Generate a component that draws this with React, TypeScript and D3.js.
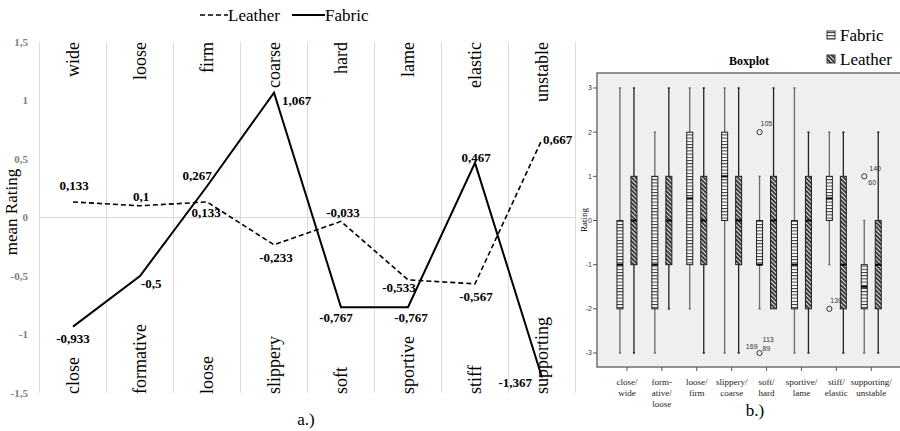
import * as d3 from "d3";

// --- chart a.) mean ratings ---
const leftPoles = ["close", "formative", "loose", "slippery", "soft", "sportive", "stiff", "supporting"];
const rightPoles = ["wide", "loose", "firm", "coarse", "hard", "lame", "elastic", "unstable"];
const fabricMeans = [-0.933, -0.5, 0.267, 1.067, -0.767, -0.767, 0.467, -1.367];
const leatherMeans = [0.133, 0.1, 0.133, -0.233, -0.033, -0.533, -0.567, 0.667];
const meanTicks = [1.5, 1, 0.5, 0, -0.5, -1, -1.5];

// label offsets (dx, dy, anchor) for the data labels
const fabricLabelPos: [number, number, string][] = [
  [0, 12, "middle"], [1, 7, "start"], [-10, -11, "middle"], [8, 8, "start"],
  [-5, 10, "middle"], [3, 10, "middle"], [1, -5, "middle"], [-10, 5, "end"],
];
const leatherLabelPos: [number, number, string][] = [
  [1, -16, "middle"], [1, -9, "middle"], [-1, 11, "middle"], [2, 13, "middle"],
  [2, -9, "middle"], [-9, 8, "middle"], [1, 13, "middle"], [1, 0, "start"],
];

// --- chart b.) boxplot ---
const boxCategories = [
  ["close/", "wide"],
  ["form-", "ative/", "loose"],
  ["loose/", "firm"],
  ["slippery/", "coarse"],
  ["soft/", "hard"],
  ["sportive/", "lame"],
  ["stiff/", "elastic"],
  ["supporting/", "unstable"],
];
// [min, q1, median, q3, max]
const fabricBoxes = [
  [-3, -2, -1, 0, 3],
  [-3, -2, -1, 1, 2],
  [-2, -1, 0.5, 2, 3],
  [-3, 0, 1, 2, 3],
  [-2, -1, -1, 0, 1],
  [-3, -2, -1, 0, 3],
  [-1, 0, 0.5, 1, 2],
  [-3, -2, -1.5, -1, 0],
];
const leatherBoxes = [
  [-3, -1, 0, 1, 3],
  [-2, -1, 0, 1, 3],
  [-3, -1, 0, 1, 3],
  [-3, -1, 0, 1, 3],
  [-2, -2, 0, 1, 3],
  [-3, -2, 0, 1, 2],
  [-3, -2, -1, 1, 2],
  [-3, -2, -1, 0, 2],
];
const fabricOutliers: [number, number, string[]][] = [
  [4, 2, ["105"]],
  [4, -3, ["169", "113", "89"]],
  [6, -2, ["130"]],
  [7, 1, ["140", "60"]],
];
const ratingTicks = [3, 2, 1, 0, -1, -2, -3];

const serif = "'Liberation Serif', 'Times New Roman', serif";
const sans = "'Liberation Sans', Arial, sans-serif";
const fmt = (v: number) => String(v).replace(".", ",");

const App = () => {
  const xA = d3.scaleBand<number>().domain(d3.range(8)).range([39.5, 575.5]);
  const yA = d3.scaleLinear().domain([-1.5, 1.5]).range([393, 42]);
  const cxA = (i: number) => (xA(i) as number) + xA.bandwidth() / 2;

  const line = d3
    .line<number>()
    .x((_, i) => cxA(i))
    .y((d) => yA(d));

  const xB = d3.scaleBand<number>().domain(d3.range(8)).range([609.5, 888.7]);
  const yB = d3.scaleLinear().domain([-3, 3]).range([353, 88]);
  const cxB = (i: number) => (xB(i) as number) + xB.bandwidth() / 2;
  const boxW = 6;

  const drawBox = (b: number[], i: number, s: number) => {
    const cx = cxB(i) + (s === 0 ? -7 : 7);
    const [mn, q1, md, q3, mx] = b;
    const wc = s === 0 ? "#6a6a6a" : "#222";
    return (
      <g key={`b${s}-${i}`}>
        {mn < q1 && <line x1={cx} x2={cx} y1={yB(mn)} y2={yB(q1)} stroke={wc} strokeWidth={1.3} />}
        {mx > q3 && <line x1={cx} x2={cx} y1={yB(q3)} y2={yB(mx)} stroke={wc} strokeWidth={1.3} />}
        {mn < q1 && <line x1={cx - 1} x2={cx + 1} y1={yB(mn)} y2={yB(mn)} stroke={wc} strokeWidth={1.5} />}
        {mx > q3 && <line x1={cx - 1} x2={cx + 1} y1={yB(mx)} y2={yB(mx)} stroke={wc} strokeWidth={1.5} />}
        <rect
          x={cx - boxW / 2}
          y={yB(q3)}
          width={boxW}
          height={yB(q1) - yB(q3)}
          fill={s === 0 ? "url(#ladder)" : "url(#hatch)"}
          stroke="#222"
          strokeWidth={1}
        />
        <line x1={cx - boxW / 2} x2={cx + boxW / 2} y1={yB(md)} y2={yB(md)} stroke="#000" strokeWidth={2} />
      </g>
    );
  };

  return (
    <svg
      width={900}
      height={431}
      style={{ position: "absolute", left: 0, top: 0, background: "#fff" }}
      fontFamily={serif}
    >
      <defs>
        <pattern id="ladder" patternUnits="userSpaceOnUse" width={6} height={3.2}>
          <rect width={6} height={3.2} fill="#fff" />
          <line x1={0} x2={6} y1={0.5} y2={0.5} stroke="#333" strokeWidth={1} />
        </pattern>
        <pattern id="hatch" patternUnits="userSpaceOnUse" width={3} height={3} patternTransform="rotate(45)">
          <rect width={3} height={3} fill="#3a3a3a" />
          <line x1={0} x2={3} y1={1.5} y2={1.5} stroke="#fff" strokeWidth={0.9} />
        </pattern>
      </defs>

      {/* ---------- a.) ---------- */}
      <g>
        {d3.range(9).map((k) => {
          const x = 39.5 + xA.step() * k;
          return <line key={k} x1={x} x2={x} y1={42} y2={393} stroke="#dcdcdc" strokeWidth={1} />;
        })}
        <line x1={39.5} x2={575.5} y1={yA(0)} y2={yA(0)} stroke="#d6d6d6" strokeWidth={1.2} />

        {meanTicks.map((t) => (
          <text key={t} x={28} y={yA(t)} dy="0.35em" textAnchor="end" fontSize={11} fontWeight="bold" fill="#808080">
            {fmt(t)}
          </text>
        ))}
        <text transform={`translate(17,212) rotate(-90)`} textAnchor="middle" fontSize={17} fill="#000">
          mean Rating
        </text>

        {rightPoles.map((p, i) => (
          <text key={`r${i}`} transform={`translate(${cxA(i)},42) rotate(-90)`} dy="0.33em" textAnchor="end" fontSize={18}>
            {p}
          </text>
        ))}
        {leftPoles.map((p, i) => (
          <text key={`l${i}`} transform={`translate(${cxA(i)},394) rotate(-90)`} dy="0.33em" textAnchor="start" fontSize={18}>
            {p}
          </text>
        ))}

        <path d={line(leatherMeans) as string} fill="none" stroke="#000" strokeWidth={1.6} strokeDasharray="5,3" />
        <path d={line(fabricMeans) as string} fill="none" stroke="#000" strokeWidth={2} />

        {fabricMeans.map((v, i) => (
          <text
            key={`fl${i}`}
            x={cxA(i) + fabricLabelPos[i][0]}
            y={yA(v) + fabricLabelPos[i][1]}
            dy="0.35em"
            textAnchor={fabricLabelPos[i][2]}
            fontSize={13}
            fontWeight="bold"
          >
            {fmt(v)}
          </text>
        ))}
        {leatherMeans.map((v, i) => (
          <text
            key={`ll${i}`}
            x={cxA(i) + leatherLabelPos[i][0]}
            y={yA(v) + leatherLabelPos[i][1]}
            dy="0.35em"
            textAnchor={leatherLabelPos[i][2]}
            fontSize={13}
            fontWeight="bold"
          >
            {fmt(v)}
          </text>
        ))}

        {/* legend */}
        <line x1={200} x2={228} y1={15} y2={15} stroke="#000" strokeWidth={1.6} strokeDasharray="5,3" />
        <text x={228} y={15} dy="0.35em" fontSize={17}>Leather</text>
        <line x1={292} x2={325} y1={15} y2={15} stroke="#000" strokeWidth={2} />
        <text x={325} y={15} dy="0.35em" fontSize={17}>Fabric</text>

        <text x={306} y={419} dy="0.35em" textAnchor="middle" fontSize={17}>a.)</text>
      </g>

      {/* ---------- b.) ---------- */}
      <g>
        <text x={749} y={61} dy="0.35em" textAnchor="middle" fontSize={12} fontWeight="bold">Boxplot</text>
        <rect x={597} y={73} width={320} height={294} fill="#efefef" stroke="#707070" strokeWidth={1.5} />

        {ratingTicks.map((t) => (
          <g key={t}>
            <line x1={593} x2={597} y1={yB(t)} y2={yB(t)} stroke="#555" />
            <text x={592} y={yB(t)} dy="0.35em" textAnchor="end" fontSize={7} fontFamily={sans} fill="#333">
              {t}
            </text>
          </g>
        ))}
        <text transform={`translate(584,220) rotate(-90)`} textAnchor="middle" dy="0.3em" fontSize={9}>Rating</text>

        {boxCategories.map((lines, i) => (
          <g key={`c${i}`}>
            <line x1={cxB(i)} x2={cxB(i)} y1={367} y2={371} stroke="#555" />
            {lines.map((l, j) => (
              <text key={j} x={cxB(i)} y={382 + j * 11} dy="0.35em" textAnchor="middle" fontSize={9} fill="#222">
                {l}
              </text>
            ))}
          </g>
        ))}

        {fabricBoxes.map((b, i) => drawBox(b, i, 0))}
        {leatherBoxes.map((b, i) => drawBox(b, i, 1))}

        {fabricOutliers.map(([i, v, labels], k) => {
          const cx = cxB(i) - 7;
          const cy = yB(v);
          return (
            <g key={`o${k}`} fontFamily={sans} fontSize={7} fill="#333">
              <circle cx={cx} cy={cy} r={2.6} fill="none" stroke="#333" strokeWidth={1} />
              {labels.length === 1 && <text x={cx + 1} y={cy - 6}>{labels[0]}</text>}
              {labels.length === 2 && (
                <>
                  <text x={cx + 5} y={cy - 5}>{labels[0]}</text>
                  <text x={cx + 4} y={cy + 9}>{labels[1]}</text>
                </>
              )}
              {labels.length === 3 && (
                <>
                  <text x={cx - 2} y={cy - 4} textAnchor="end">{labels[0]}</text>
                  <text x={cx + 3} y={cy - 11}>{labels[1]}</text>
                  <text x={cx + 3} y={cy - 2}>{labels[2]}</text>
                </>
              )}
            </g>
          );
        })}

        {/* legend */}
        <rect x={827} y={31} width={8} height={8} fill="url(#ladder)" stroke="#333" />
        <text x={840} y={35} dy="0.35em" fontSize={17}>Fabric</text>
        <rect x={827} y={55} width={8} height={8} fill="url(#hatch)" stroke="#333" />
        <text x={840} y={59} dy="0.35em" fontSize={17}>Leather</text>

        <text x={755} y={410} dy="0.35em" textAnchor="middle" fontSize={17}>b.)</text>
      </g>
    </svg>
  );
};

export default App;
